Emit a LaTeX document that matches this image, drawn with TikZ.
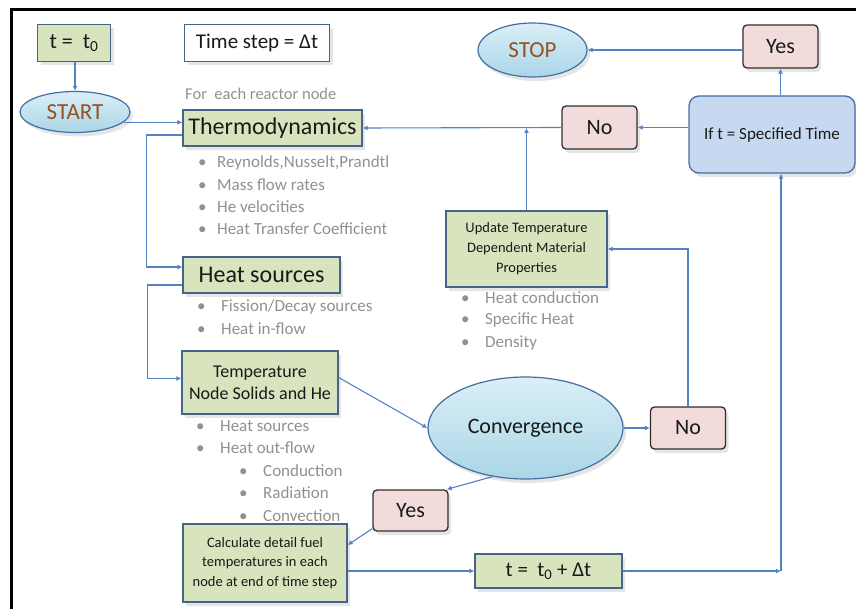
\documentclass[tikz,border=0pt]{standalone}
\usepackage{fontspec}
\setmainfont{Carlito}
\usetikzlibrary{shapes.geometric,arrows.meta,shadows,calc}
\definecolor{lineblue}{RGB}{84,130,197}
\definecolor{greenfill}{RGB}{215,228,189}
\definecolor{greenline}{RGB}{70,100,135}
\definecolor{pinkfill}{RGB}{242,220,219}
\definecolor{pinkline}{RGB}{50,45,45}
\definecolor{ellfilltop}{RGB}{218,239,247}
\definecolor{ellfillbot}{RGB}{170,214,231}
\definecolor{ellline}{RGB}{70,110,160}
\definecolor{ifill}{RGB}{198,217,241}
\definecolor{brownt}{RGB}{150,80,35}
\definecolor{graytxt}{RGB}{145,145,145}
\definecolor{darktxt}{RGB}{25,25,25}
\tikzset{
 shad/.style={drop shadow={opacity=0.2, shadow xshift=3pt, shadow yshift=-4pt}},
 greenbox/.style={draw=greenline, line width=1.3pt, fill=greenfill, shad, inner sep=0pt, align=center, text=darktxt},
 pinkbox/.style={draw=pinkline, line width=1.3pt, fill=pinkfill, rounded corners=4pt, shad, inner sep=0pt, text=darktxt, font=\fontsize{22}{26}\selectfont, minimum width=75pt, minimum height=42pt},
 blueell/.style={ellipse, draw=ellline, line width=1.2pt, top color=ellfilltop, bottom color=ellfillbot, shad, inner sep=0pt},
 arr/.style={draw=lineblue, line width=1.1pt, -{Latex[length=5pt,width=5pt]}},
 bul/.style={anchor=west, text=graytxt, font=\fontsize{17}{20}\selectfont, inner sep=0pt},
}
\newcommand\bl[1]{\makebox[19pt][l]{\textbullet}#1}
\newcommand\blb[1]{\makebox[24pt][l]{\textbullet}#1}
\begin{document}
\begin{tikzpicture}[x=1pt,y=-1pt]
\useasboundingbox (0,0) rectangle (856,609);
\fill[white] (0,0) rectangle (856,609);
\draw[line width=3pt] (11.5,609) -- (11.5,9.5) -- (856,9.5);

% bullet texts
\node[bul] (tb1) at (198,163) {\bl{Reynolds,Nusselt,Prandtl}};
\node[bul] (tb2) at (198,185) {\bl{Mass flow rates}};
\node[bul] (tb3) at (198,207) {\bl{He velocities}};
\node[bul] (tb4) at (198,229) {\bl{Heat Transfer Coefficient}};
\node[bul] (hb1) at (197,307) {\blb{Fission/Decay sources}};
\node[bul] (hb2) at (197,329) {\blb{Heat in-flow}};
\node[bul] (nb1) at (196,426) {\blb{Heat sources}};
\node[bul] (nb2) at (196,448) {\blb{Heat out-flow}};
\node[bul] (nb3) at (239,471) {\blb{Conduction}};
\node[bul] (nb4) at (239,493) {\blb{Radiation}};
\node[bul] (nb5) at (239,516) {\blb{Convection}};
\node[bul] (ub1) at (461,298) {\blb{Heat conduction}};
\node[bul] (ub2) at (461,320) {\blb{Specific Heat}};
\node[bul] (ub3) at (461,343) {\blb{Density}};

% nodes
\node[greenbox, minimum width=73pt, minimum height=37pt, font=\fontsize{22}{26}\selectfont] (t0) at (74,43) {t =~ t\textsubscript{0}};
\node[draw=greenline, line width=1.3pt, fill=white, shad, inner sep=0pt, minimum width=145pt, minimum height=37pt, text=darktxt, font=\fontsize{21}{25}\selectfont] (ts) at (257,43) {Time step = Δt};
\node[anchor=west, text=graytxt, font=\fontsize{16.5}{20}\selectfont, inner sep=0pt] (fe) at (185,94) {For~ each reactor node};
\node[blueell, minimum width=110pt, minimum height=41pt, text=brownt, font=\fontsize{23}{27}\selectfont] (start) at (75,112) {START};
\node[greenbox, minimum width=179pt, minimum height=36pt, font=\fontsize{24}{28}\selectfont] (thermo) at (272.5,128) {Thermodynamics};
\node[greenbox, minimum width=157pt, minimum height=36pt, font=\fontsize{24}{28}\selectfont] (heatsrc) at (261.5,275) {Heat sources};
\node[greenbox, minimum width=156pt, minimum height=63pt, font=\fontsize{18}{22}\selectfont] (tempnode) at (260,382.5) {Temperature\\Node Solids and He};
\node[greenbox, minimum width=164pt, minimum height=78pt, font=\fontsize{14.5}{19.5}\selectfont] (calc) at (265,563) {Calculate detail fuel\\temperatures in each\\node at end of time step};
\node[greenbox, minimum width=161pt, minimum height=76pt, font=\fontsize{14.5}{20}\selectfont] (update) at (526.5,249) {Update Temperature\\Dependent Material\\Properties};
\node[greenbox, minimum width=147pt, minimum height=34pt, font=\fontsize{21}{25}\selectfont] (tnext) at (548.5,571) {t =~ t\textsubscript{0} + Δt};
\node[blueell, minimum width=195pt, minimum height=102pt, text=darktxt, font=\fontsize{22}{26}\selectfont] (conv) at (525.5,428) {Convergence};
\node[pinkbox] (no2) at (688,428) {No};
\node[pinkbox, minimum height=41pt] (yes2) at (410.5,510.5) {Yes};
\node[draw=ellline, line width=1.3pt, fill=ifill, rounded corners=10pt, shad, inner sep=0pt, minimum width=166pt, minimum height=77pt, text=darktxt, font=\fontsize{17}{20}\selectfont] (ifbox) at (772,134.5) {If t = Specified Time};
\node[pinkbox, minimum height=43pt] (yes1) at (780.5,46.5) {Yes};
\node[blueell, minimum width=109pt, minimum height=54pt, text=brownt, font=\fontsize{23}{27}\selectfont] (stop) at (532.5,50) {STOP};
\node[pinkbox, minimum height=43pt] (no1) at (599.5,127.5) {No};

% connectors
\draw[arr] (t0.south -| start.north) -- (start.north);
\draw[arr] (start.-12) -- (start.-12 -| thermo.west);
\draw[arr] ($(thermo.west)+(0,7)$) -- ++(-36,0) |- ($(heatsrc.west)+(0,-8)$);
\draw[arr] ($(heatsrc.west)+(0,10)$) -- ++(-35,0) |- ($(tempnode.west)+(0,-4)$);
\draw[arr] ($(tempnode.east)+(0,-5)$) -- (conv.west);
\draw[arr] (conv.east) -- (no2.west);
\draw[arr] (no2.north) |- (update.east);
\draw[arr] (update.north) -- (update.north |- thermo.east);
\draw[arr] (no1.west) -- (thermo.east);
\draw[arr] (ifbox.west |- no1.east) -- (no1.east);
\draw[arr] (yes1.south |- ifbox.north) -- (yes1.south);
\draw[arr] (yes1.west |- stop.east) -- (stop.east);
\draw[arr] (conv.236) -- ([xshift=-2pt]yes2.north east);
\draw[arr] ($(yes2.south west)+(0,-3)$) -- ($(calc.east)+(0,-18)$);
\draw[arr] (tnext.west -| calc.east) -- (tnext.west);
\coordinate (cr) at (781,571);
\draw[arr] (tnext.east) -- (cr);
\draw[arr] (cr) -- (cr |- ifbox.south);
\end{tikzpicture}
\end{document}
